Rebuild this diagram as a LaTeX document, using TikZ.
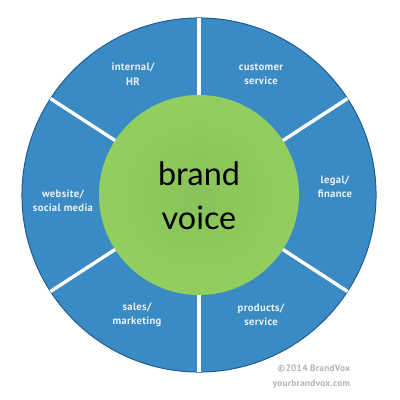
\documentclass[tikz,border=0pt]{standalone}
\usepackage{fontspec}
\setmainfont{Lato}
\newfontfamily\sectorfont[LetterSpace=3]{PT Sans}
\usetikzlibrary{positioning}

\definecolor{ringmid}{HTML}{3A8AC3}
\definecolor{ringout}{HTML}{2D6DA4}
\definecolor{ringedge}{HTML}{1F5C94}
\definecolor{coreinner}{HTML}{88C259}
\definecolor{coreouter}{HTML}{9DDB65}
\definecolor{sectortext}{HTML}{EAF1F7}
\definecolor{credittext}{HTML}{B3B3B3}

\pgfdeclareradialshading{ringshade}{\pgfpoint{0bp}{0bp}}{color(0bp)=(ringmid); color(36bp)=(ringmid); color(50bp)=(ringout)}
\pgfdeclareradialshading{coreshade}{\pgfpoint{0bp}{0bp}}{color(0bp)=(coreinner); color(50bp)=(coreouter)}

\begin{document}
\begin{tikzpicture}[x=0.025cm, y=-0.025cm,
  sector/.style={font=\sectorfont\bfseries\fontsize{7.6}{10.3}\selectfont, text=sectortext, align=center},
  credit/.style={font=\sectorfont\bfseries\fontsize{6.6}{10.6}\selectfont, text=credittext, align=right, anchor=east},
  divider/.style={draw=white, line width=2.4pt}]
\useasboundingbox[fill=white] (0,0) rectangle (400,400);
\node[circle, minimum size=8.85cm, inner sep=0pt, outer sep=0pt, shading=ringshade, draw=ringedge, line width=0.7pt] (ring) at (199,195) {};
\node[circle, minimum size=5cm, inner sep=0pt, outer sep=0pt, shading=coreshade] (core) at (199,195) {};
\foreach \a in {90,33,-33,-90,213,147}
  \draw[divider] (core.\a) -- (ring.\a);
\node[font=\fontsize{23}{31.5}\selectfont, align=center] (voice) at (199,196) {brand\\voice};
% the six areas
\node[sector] (hr) at (133,74) {internal/\\HR};
\node[sector] (customer) at (261,74) {customer\\service};
\node[sector] (legal) at (335,187) {legal/\\finance};
\node[sector] (web) at (63,201) {website/\\social media};
\node[sector] (sales) at (137,315) {sales/\\marketing};
\node[sector] (products) at (261,315) {products/\\service};
\node[credit] (copy) at (355,377) {©2014 BrandVox\\yourbrandvox.com};
\end{tikzpicture}
\end{document}
